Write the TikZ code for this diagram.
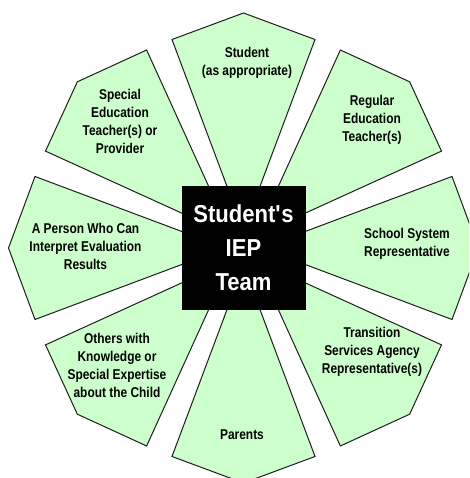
\documentclass[tikz,border=0pt]{standalone}
\usepackage{fontspec}
\setmainfont{Liberation Sans}[FakeStretch=0.84]
\newfontfamily\ctrfont{Liberation Sans}[FakeStretch=0.9]
\definecolor{wedgegreen}{RGB}{204,255,204}
\definecolor{edgegray}{RGB}{30,30,30}
\begin{document}
\begin{tikzpicture}[x=1pt,y=1pt,
  wedge/.style={fill=wedgegreen, draw=edgegray, line width=1pt, line join=miter},
  lbl/.style={align=center, font=\fontsize{14.2}{18}\selectfont\bfseries, text=black, inner sep=0pt},
  core/.style={fill=black, minimum size=124pt, inner sep=0pt, text=white, align=center,
    font=\ctrfont\bfseries\fontsize{24.5}{34}\selectfont}]
\useasboundingbox (-243.5,-230) rectangle (225.5,248);
\clip (-243.5,-230) rectangle (225.5,248);
\fill[white] (-243.5,-230) rectangle (225.5,248);
\foreach \a in {0,45,...,315} {
  \draw[wedge, rotate=\a] (0,17.6) -- (-71.5,208.5) -- (0,235) -- (71.5,208.5) -- cycle;
}
\node[core] (team) at (0,0) {Student\textquotesingle s\\IEP\\Team};
\node[lbl] (student) at (3.5,185) {Student\\(as appropriate)};
\node[lbl] (speced) at (-123.5,126.5) {Special\\Education\\Teacher(s) or\\Provider};
\node[lbl] (reged) at (128.5,128) {Regular\\Education\\Teacher(s)};
\node[lbl] (person) at (-158,2) {A Person Who Can\\Interpret Evaluation\\Results};
\node[lbl] (school) at (163.5,4.5) {School System\\Representative};
\node[lbl] (others) at (-126.5,-117) {Others with\\Knowledge or\\Special Expertise\\about the Child};
\node[lbl] (transition) at (128.5,-104) {Transition\\Services Agency\\Representative(s)};
\node[lbl] (parents) at (-1.5,-187) {Parents};
\end{tikzpicture}
\end{document}
